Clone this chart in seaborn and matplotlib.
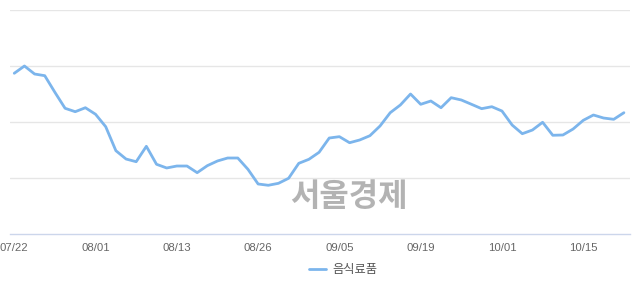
import matplotlib
matplotlib.use("Agg")
import matplotlib.pyplot as plt
import seaborn as sns
import pandas as pd

dates = ["07/22","07/23","07/24","07/25","07/26","07/29","07/30","07/31","08/01",
         "08/02","08/05","08/06","08/07","08/08","08/09","08/12","08/13",
         "08/14","08/16","08/19","08/20","08/21","08/22","08/23","08/26",
         "08/27","08/28","08/29","08/30","09/02","09/03","09/04","09/05",
         "09/06","09/09","09/10","09/11","09/16","09/17","09/18","09/19",
         "09/20","09/23","09/24","09/25","09/26","09/27","09/30","10/01",
         "10/02","10/04","10/07","10/08","10/10","10/11","10/14","10/15",
         "10/16","10/17","10/18","10/21"]
values = [287.0, 300.0, 285.7, 282.7, 253.0, 224.5, 218.4, 225.5, 213.8,
          191.6, 148.8, 133.9, 129.1, 156.6, 124.5, 117.9, 121.4,
          121.4, 109.5, 122.0, 130.4, 135.7, 135.7, 115.5, 89.3,
          87.0, 90.5, 99.5, 126.2, 133.4, 145.9, 171.4, 173.8,
          163.0, 167.9, 175.5, 192.9, 216.6, 230.4, 250.0, 231.6,
          237.5, 225.5, 243.4, 239.3, 231.6, 223.8, 227.3, 219.6,
          194.6, 179.1, 185.7, 199.5, 176.3, 176.8, 187.5, 203.0,
          212.5, 207.1, 204.8, 216.6]
tick_labels = ["07/22", "08/01", "08/13", "08/26", "09/05", "09/19", "10/01", "10/15"]
series_name = "음식료품"
watermark = "서울경제"

df = pd.DataFrame({"idx": range(len(dates)), "date": dates, "value": values})

sns.set_style("white")
plt.rcParams["font.family"] = ["Liberation Sans", "DejaVu Sans"]

fig = plt.figure(figsize=(6.4, 2.94), dpi=100)
ax = fig.add_axes([10/640, 1 - 234/294, 620/640, 224/294])

sns.lineplot(data=df, x="idx", y="value", ax=ax, color="#7cb5ec", linewidth=2,
             label=series_name, legend=False)

ax.set_xlim(-0.42, 60.6)
ax.set_ylim(0, 400)
ax.set_yticks([100, 200, 300, 400])
ax.yaxis.grid(True, color="#e6e6e6", linewidth=1)
ax.xaxis.grid(False)
ax.set_yticklabels([])
ax.tick_params(axis="y", length=0)

tick_pos = [dates.index(t) for t in tick_labels]
ax.set_xticks(tick_pos)
ax.set_xticklabels(tick_labels, fontsize=8.2, color="#666666")
ax.tick_params(axis="x", length=7.2, width=1, color="#ccd6eb", pad=-0.5, direction="out")
ax.set_xlabel("")
ax.set_ylabel("")

for s in ["top", "right", "left"]:
    ax.spines[s].set_visible(False)
ax.spines["bottom"].set_color("#ccd6eb")
ax.spines["bottom"].set_linewidth(1)

fig.text(349/640, 1 - 197/294, watermark, ha="center", va="center",
         fontsize=23, fontweight="bold", color="#b3b3b3",
         family=["Noto Sans CJK KR", "DejaVu Sans"], zorder=5)

handles, labels = ax.get_legend_handles_labels()
leg = fig.legend(handles, labels, loc="center", bbox_to_anchor=(343/640, 1 - 269.7/294),
                 frameon=False, handlelength=1.45, handletextpad=0.5,
                 prop={"family": ["Noto Sans CJK KR", "DejaVu Sans"], "size": 8.8})
for t in leg.get_texts():
    t.set_color("#555555")

fig.savefig("out.png", dpi=100)
